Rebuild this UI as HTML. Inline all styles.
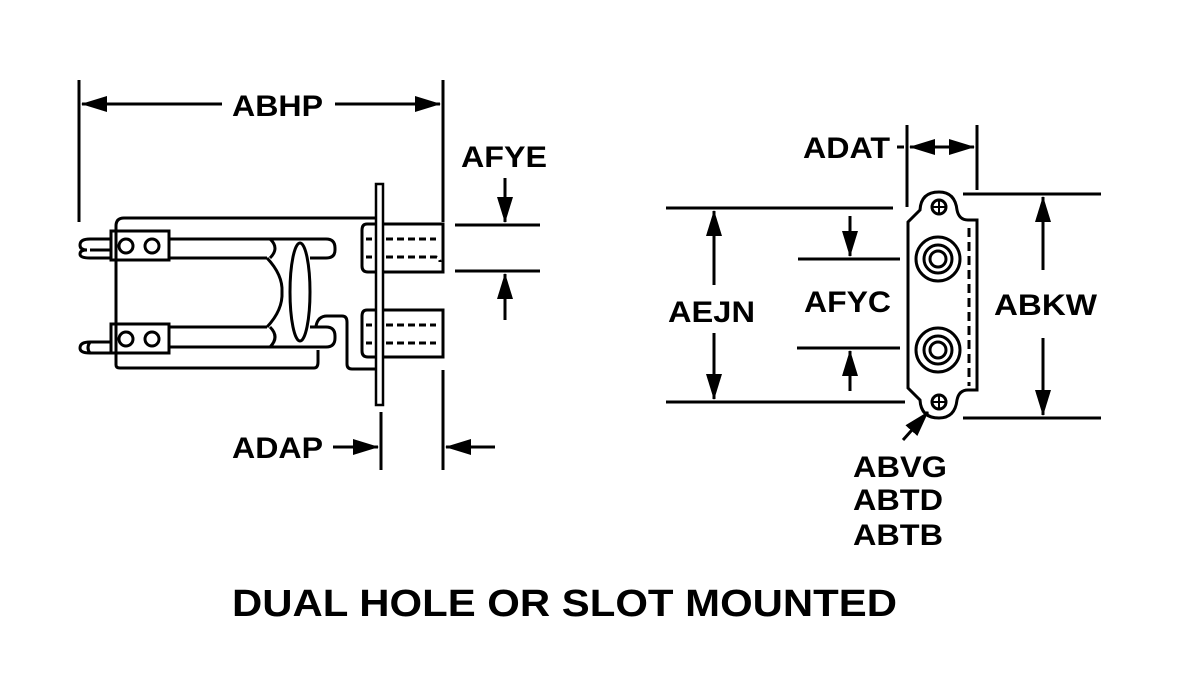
<!DOCTYPE html>
<html><head><style>
html,body{margin:0;padding:0;background:#fff;}
svg{display:block;}
text{font-family:"Liberation Sans",Arial,sans-serif;font-weight:bold;fill:#000;}
</style></head><body>
<svg width="1182" height="693" viewBox="0 0 1182 693" xmlns="http://www.w3.org/2000/svg">
<defs>
<marker id="a" markerWidth="26" markerHeight="16" refX="25" refY="8" orient="auto" markerUnits="userSpaceOnUse">
<path d="M0,0 L26,8 L0,16 Z" fill="#000"/></marker>
</defs>
<g stroke="#000" stroke-width="3" fill="none">
<line x1="79" y1="80" x2="79" y2="222"/>
<line x1="443" y1="80" x2="443" y2="222"/>
<line x1="443" y1="370" x2="443" y2="470"/>
<line x1="381" y1="412" x2="381" y2="470"/>
<line x1="222" y1="104" x2="82" y2="104" marker-end="url(#a)"/>
<line x1="335" y1="104" x2="440" y2="104" marker-end="url(#a)"/>
<line x1="333" y1="447" x2="378" y2="447" marker-end="url(#a)"/>
<line x1="495" y1="447" x2="446" y2="447" marker-end="url(#a)"/>
<line x1="455" y1="225" x2="540" y2="225"/>
<line x1="455" y1="271" x2="540" y2="271"/>
<line x1="505" y1="178" x2="505" y2="222" marker-end="url(#a)"/>
<line x1="505" y1="320" x2="505" y2="274" marker-end="url(#a)"/>

<path d="M116,365 L116,226 Q116,218 124,218 L376,218"/>
<path d="M116,365 Q116,368 120,368 L314,368 Q318,368 318,362 L318,350"/>
<rect x="111" y="231" width="58" height="29"/>
<circle cx="126" cy="246" r="7"/><circle cx="152" cy="246" r="7"/>
<rect x="111" y="324" width="58" height="29"/>
<circle cx="126" cy="339" r="7"/><circle cx="152" cy="339" r="7"/>
<path d="M169,239 L326,239 Q335,239 335,248 L335,250 Q335,258 326,258 L310,258"/>
<line x1="169" y1="258" x2="267" y2="258"/>
<path d="M169,327 L267,327"/>
<path d="M169,347 L326,347 Q335,347 335,338 L335,336 Q335,327 326,327 L310,327"/>
<path d="M270,239 Q280,248 270,258"/>
<path d="M270,327 Q280,337 270,347"/>
<path d="M267,258 Q283,275 282,292 Q283,310 267,327"/>
<ellipse cx="300" cy="292" rx="10" ry="49"/>
<path d="M316,326 Q318,316 327,316 L342,316 Q347,316 347,322 L347,364 Q347,369 352,369 L377,369"/>
<path d="M90,239 L111,239 M90,258 L111,258 M90,250 L111,250"/>
<path d="M90,239 Q80,239 80,245 Q80,250 87,250 Q80,250 80,254 Q80,258 90,258"/>
<path d="M90,342 L111,342 M90,353 L111,353"/>
<path d="M90,342 Q80,342 80,348 Q80,353 90,353 Q86,348 90,342"/>
<rect x="376" y="184" width="7" height="221" stroke-width="2.5"/>
<path d="M376,224 L367,224 Q362,224 362,230 L362,266 Q362,272 368,272 L376,272"/>
<path d="M383,224 L443,224 L443,272 L383,272"/>
<line x1="366" y1="239" x2="372" y2="239"/><line x1="366" y1="257" x2="372" y2="257"/>
<line x1="386" y1="239" x2="436" y2="239" stroke-dasharray="7,4"/>
<path d="M386,257 L436,257 Q440,258 440,262" stroke-dasharray="7,4"/>
<path d="M376,310 L367,310 Q362,310 362,316 L362,351 Q362,357 368,357 L376,357"/>
<path d="M383,310 L443,310 L443,357 L383,357"/>
<line x1="366" y1="325" x2="372" y2="325"/><line x1="366" y1="343" x2="372" y2="343"/>
<line x1="386" y1="325" x2="436" y2="325" stroke-dasharray="7,4"/>
<line x1="386" y1="343" x2="436" y2="343" stroke-dasharray="7,4"/>

<line x1="907" y1="125" x2="907" y2="207"/>
<line x1="977" y1="125" x2="977" y2="190"/>
<line x1="897" y1="147" x2="904" y2="147"/>
<line x1="945" y1="147" x2="910" y2="147" marker-end="url(#a)"/>
<line x1="945" y1="147" x2="974" y2="147" marker-end="url(#a)"/>
<line x1="666" y1="208" x2="893" y2="208"/>
<line x1="666" y1="402" x2="905" y2="402"/>
<line x1="714" y1="285" x2="714" y2="211" marker-end="url(#a)"/>
<line x1="714" y1="333" x2="714" y2="399" marker-end="url(#a)"/>
<line x1="798" y1="259" x2="900" y2="259"/>
<line x1="797" y1="348" x2="900" y2="348"/>
<line x1="850" y1="216" x2="850" y2="256" marker-end="url(#a)"/>
<line x1="850" y1="391" x2="850" y2="351" marker-end="url(#a)"/>
<line x1="963" y1="194" x2="1101" y2="194"/>
<line x1="963" y1="418" x2="1101" y2="418"/>
<line x1="1043" y1="270" x2="1043" y2="197" marker-end="url(#a)"/>
<line x1="1043" y1="338" x2="1043" y2="415" marker-end="url(#a)"/>
<path d="M908,222 L908,388 L920,400 Q921,418 939,418 Q955,418 957,400 Q959,390 968,390 L977,390 L977,220 L968,220 Q959,220 957,210 Q955,192 939,192 Q921,192 920,210 Z"/>
<line x1="969" y1="228" x2="969" y2="386" stroke-dasharray="9,5"/>
<circle cx="939" cy="207" r="7"/>
<line x1="932" y1="207" x2="946" y2="207" stroke-width="2"/><line x1="939" y1="200" x2="939" y2="214" stroke-width="2"/>
<circle cx="939" cy="402" r="7"/>
<line x1="932" y1="402" x2="946" y2="402" stroke-width="2"/><line x1="939" y1="395" x2="939" y2="409" stroke-width="2"/>
<circle cx="938" cy="259" r="22"/><circle cx="938" cy="259" r="14"/><circle cx="938" cy="259" r="8"/>
<circle cx="938" cy="350" r="22"/><circle cx="938" cy="350" r="14"/><circle cx="938" cy="350" r="8"/>
<line x1="903" y1="440" x2="928" y2="412" marker-end="url(#a)"/>
</g>
<g font-size="30">
<text x="232" y="116" textLength="91" lengthAdjust="spacingAndGlyphs">ABHP</text>
<text x="461" y="167" textLength="86" lengthAdjust="spacingAndGlyphs">AFYE</text>
<text x="232" y="458" textLength="91" lengthAdjust="spacingAndGlyphs">ADAP</text>
<text x="803" y="158" textLength="87" lengthAdjust="spacingAndGlyphs">ADAT</text>
<text x="668" y="322" textLength="87" lengthAdjust="spacingAndGlyphs">AEJN</text>
<text x="804" y="312" textLength="87" lengthAdjust="spacingAndGlyphs">AFYC</text>
<text x="994" y="315" textLength="103" lengthAdjust="spacingAndGlyphs">ABKW</text>
<text x="853" y="477" textLength="94" lengthAdjust="spacingAndGlyphs">ABVG</text>
<text x="853" y="510" textLength="90" lengthAdjust="spacingAndGlyphs">ABTD</text>
<text x="853" y="545" textLength="90" lengthAdjust="spacingAndGlyphs">ABTB</text>
<text x="232" y="616" font-size="38" textLength="665" lengthAdjust="spacingAndGlyphs">DUAL HOLE OR SLOT MOUNTED</text>
</g>
</svg>
</body></html>
